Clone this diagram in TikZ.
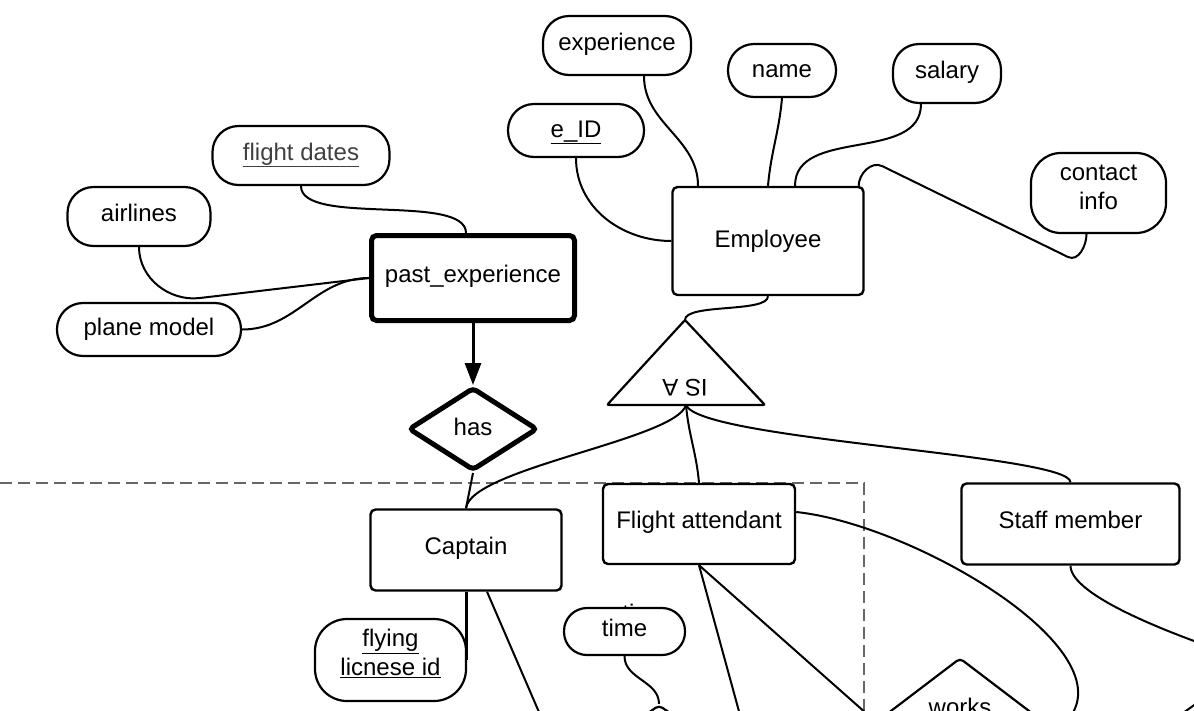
\documentclass[tikz,border=0pt]{standalone}
\usepackage{fontspec}
\setmainfont{Liberation Sans}
\usetikzlibrary{shapes.geometric,arrows.meta}
\newcommand{\key}[1]{\underline{#1}}
\newcommand{\erFont}{\fontsize{24}{29}\selectfont}

\begin{document}
\begin{tikzpicture}[x=1pt, y=1pt, font=\erFont]
  \tikzset{attr/.style={draw, fill=white, line width=2.2pt, rounded corners=26pt, align=center, inner sep=0pt, text height=17pt, text depth=8pt},
    entity/.style={draw, fill=white, line width=2.4pt, rounded corners=5pt, align=center, inner sep=0pt, text height=17pt, text depth=8pt},
    weak/.style={entity, line width=5pt},
    rel/.style={draw, fill=white, diamond, line width=2.2pt, rounded corners=4pt, inner sep=0pt, text height=17pt, text depth=8pt},
    link/.style={line width=2pt},
    border/.style={black!60, line width=1.3pt, dash pattern=on 12pt off 6pt}}
  \useasboundingbox (0,0) rectangle (1194,-710);
  \clip (0,0) rectangle (1194,-710);
  \draw[border] (0,-483) -- (864,-483) -- (864,-730);
  \node (TIME-0) at (645,-613) {time};
  \node[attr, minimum width=148pt, minimum height=59pt] (EXP) at (617,-45.5) {experience};
  \node[attr, minimum width=108pt, minimum height=53pt, text depth=4pt] (NAME) at (782,-70.5) {name};
  \node[attr, minimum width=108pt, minimum height=59pt] (SAL) at (947,-73.5) {salary};
  \node[attr, minimum width=136pt, minimum height=53pt, text depth=4pt] (EID) at (576,-130.5) {\key{e\_ID}};
  \node[attr, minimum width=135pt, minimum height=80pt, rounded corners=30pt, text height=38pt, text depth=5pt] (CON) at (1098.5,-193) {contact\\info};
  \node[attr, minimum width=177pt, minimum height=59pt, text=black!75] (FD) at (301,-155.5) {\key{flight dates}};
  \node[attr, minimum width=143pt, minimum height=59pt] (AIR) at (139,-216.5) {airlines};
  \node[attr, minimum width=184pt, minimum height=53pt, text depth=6pt] (PM) at (149,-329.5) {plane model};
  \node[attr, minimum width=151pt, minimum height=82pt, rounded corners=32pt, text height=36pt, text depth=5pt] (FLI) at (390.5,-660) {\key{flying}\\\key{licnese id}};
  \node[attr, minimum width=121pt, minimum height=47pt, rounded corners=23pt] (TIME) at (624.5,-631.5) {time};
  \node[entity, minimum width=191pt, minimum height=108pt, text depth=4pt] (EMP) at (768,-241) {Employee};
  \node[weak, minimum width=203pt, minimum height=85pt] (PE) at (473,-278) {past\_experience};
  \node[entity, minimum width=191pt, minimum height=81pt] (CAP) at (466,-550) {Captain};
  \node[entity, minimum width=192pt, minimum height=80pt] (FA) at (699,-524) {Flight attendant};
  \node[entity, minimum width=218pt, minimum height=81pt] (SM) at (1070.5,-524) {Staff member};
  \node[rel, line width=5pt, minimum width=129pt, minimum height=83pt, text depth=4pt] (HAS) at (473,-429) {has};
  \node[rel, minimum width=130pt, minimum height=90pt] (REL-1) at (659,-750) {};
  \node[rel, minimum width=168pt, minimum height=128pt, text depth=30pt] (WORKS) at (960,-722) {works};
  \coordinate (ISA-t) at (685,-320);
  \coordinate (ISA-l) at (607,-405);
  \coordinate (ISA-r) at (765,-405);
  \coordinate (ISA-b) at (686,-405);
  \draw[line width=2.2pt, fill=white, rounded corners=2pt] (ISA-t) -- (ISA-r) -- (ISA-l) -- cycle;
  \node[rotate=180] (ISA) at (685,-388) {IS A};
  \coordinate (CAP-end) at (545,-726);
  \coordinate (FA-end-1) at (743,-726);
  \coordinate (FA-end-2) at (876,-722);
  \coordinate (FA-end-3) at (1064,-724);
  \coordinate (SM-end) at (1205,-645);
  \coordinate (BR-1) at (1176,-718);
  \coordinate (BR-2) at (1204,-698);
  \draw[link] ([xshift=27pt]EXP.south) to[out=-90,in=90] ([xshift=-70pt]EMP.north);
  \draw[link] (NAME.south) to[out=-95,in=85] (EMP.north);
  \draw[link] ([xshift=-26pt]SAL.south) to[out=-90,in=90] ([xshift=27pt]EMP.north);
  \draw[link] (EID.south) to[out=-90,in=180] (EMP.west);
  \draw[link] ([xshift=-12pt]CON.south) to[out=-90,in=-25] (1068,-257) -- (882,-166) to[out=155,in=90] ([xshift=-6pt]EMP.north east);
  \draw[link] (EMP.south) to[out=-90,in=90,looseness=0.5] (ISA-t);
  \draw[link] (FD.south) to[out=-90,in=90,looseness=0.6] ([xshift=-7pt]PE.north);
  \draw[link] (AIR.south) to[out=-90,in=187] (200,-298) -- (PE.west);
  \draw[link] (PM.east) to[out=0,in=180] (PE.west);
  \draw[line width=3pt, -{Triangle[length=22pt,width=16pt]}] (PE.south) -- (HAS.north);
  \draw[link] (HAS.south) -- (CAP.north);
  \draw[link] (ISA-b) to[out=-106,in=84,out distance=36pt,in distance=40pt] (CAP.north);
  \draw[link] (ISA-b) to[out=-85,in=95] (FA.north);
  \draw[link] (ISA-b) to[out=-68,in=90,out distance=38pt,in distance=28pt] (SM.north);
  \draw[line width=3pt] (CAP.south) -- (CAP.south |- FLI.east);
  \draw[link] ([xshift=21pt]CAP.south) -- (CAP-end);
  \draw[link] (FA.south) -- (FA-end-1);
  \draw[link] (FA.south) -- (FA-end-2);
  \draw[link] ([yshift=12pt]FA.east) to[out=-6,in=44,out distance=120pt,in distance=100pt] (FA-end-3);
  \draw[link] (SM.south) to[out=-90,in=160,looseness=0.5] (SM-end);
  \draw[link] (TIME.south) to[out=-90,in=90] (REL-1.north);
  \draw[link] (BR-1) -- (BR-2);
\end{tikzpicture}
\end{document}
